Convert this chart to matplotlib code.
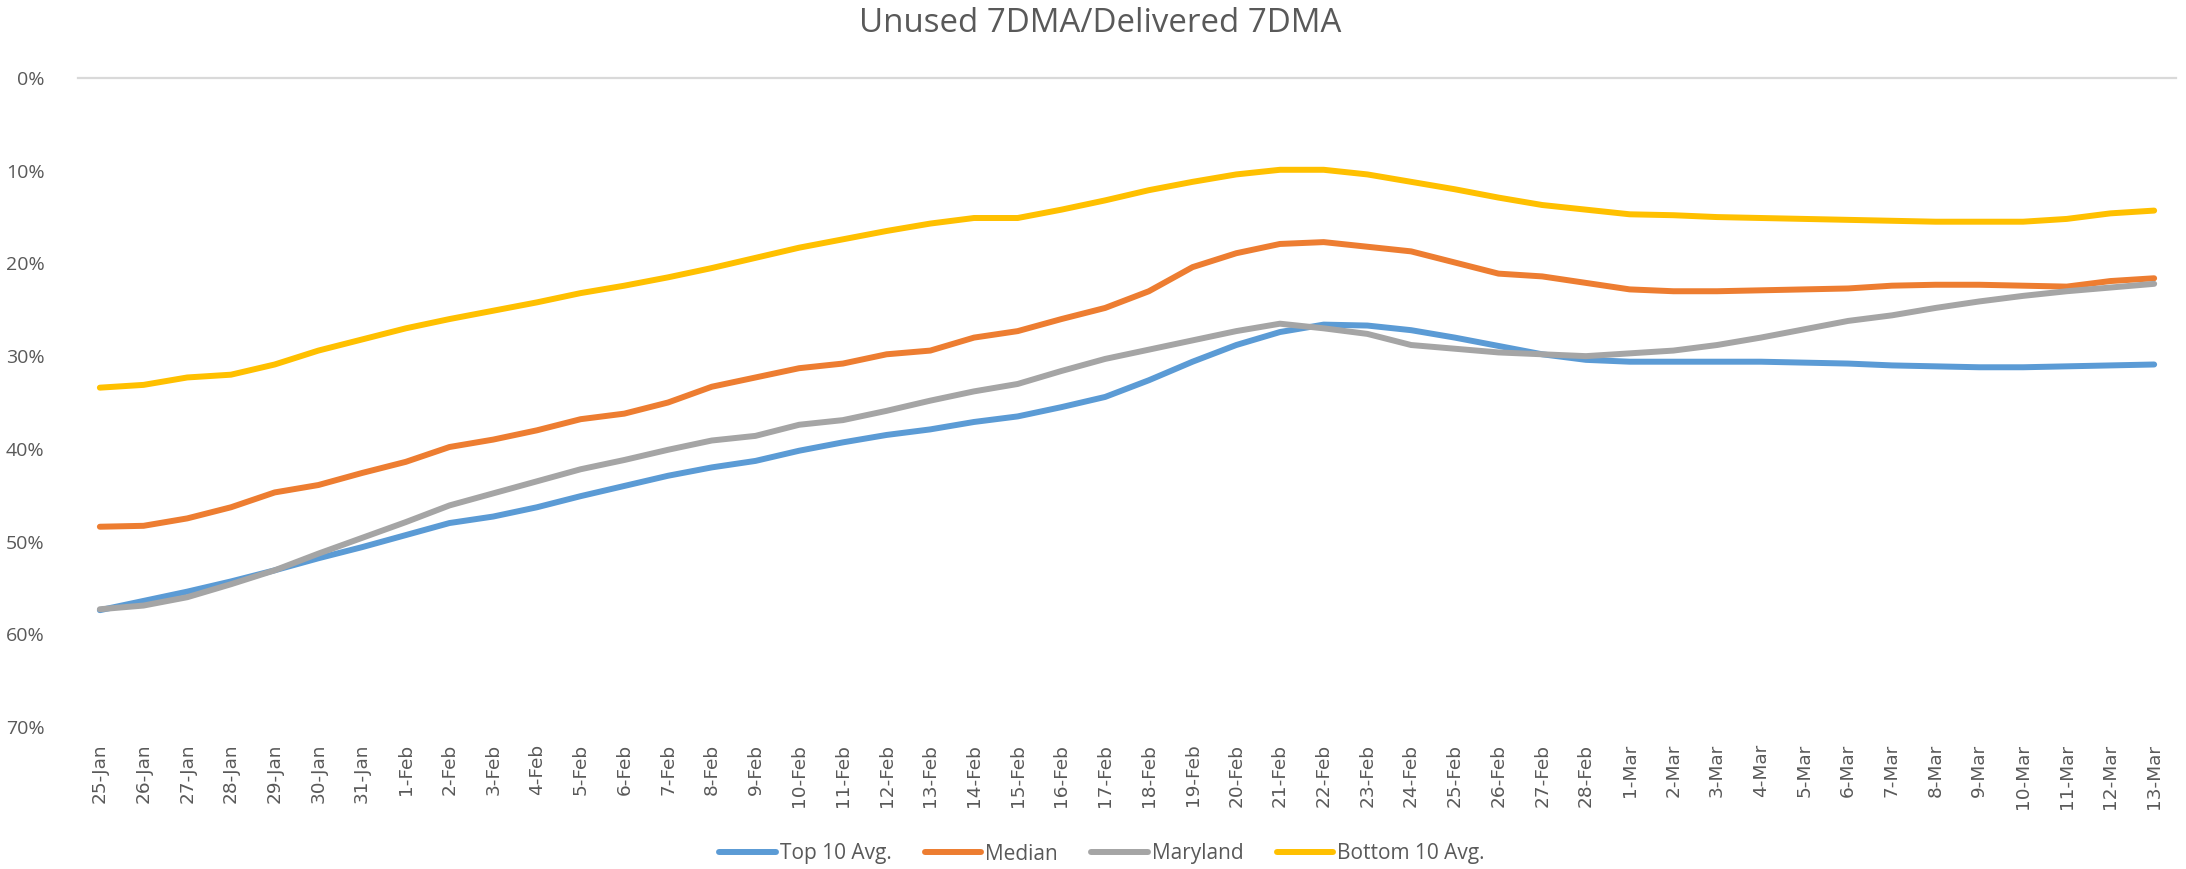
import matplotlib

matplotlib.use("Agg")
import matplotlib.pyplot as plt
import pandas as pd
from matplotlib.ticker import PercentFormatter

# ---- data (share of delivered doses unused, 7-day moving averages, %) ----
dates = pd.date_range("2021-01-25", "2021-03-13")
date_labels = [f"{d.day}-{d:%b}" for d in dates]

top10_avg = [57.4, 56.4, 55.4, 54.3, 53.1, 51.8, 50.6, 49.3, 48.0, 47.3, 46.3, 45.1,
             44.0, 42.9, 42.0, 41.3, 40.2, 39.3, 38.5, 37.9, 37.1, 36.5, 35.5, 34.4,
             32.6, 30.6, 28.8, 27.4, 26.6, 26.7, 27.2, 28.0, 28.9, 29.8, 30.4, 30.6,
             30.6, 30.6, 30.6, 30.7, 30.8, 31.0, 31.1, 31.2, 31.2, 31.1, 31.0, 30.9]
median = [48.4, 48.3, 47.5, 46.3, 44.7, 43.9, 42.6, 41.4, 39.8, 39.0, 38.0, 36.8,
          36.2, 35.0, 33.3, 32.3, 31.3, 30.8, 29.8, 29.4, 28.0, 27.3, 26.0, 24.8,
          23.0, 20.4, 18.9, 17.9, 17.7, 18.2, 18.7, 19.9, 21.1, 21.4, 22.1, 22.8,
          23.0, 23.0, 22.9, 22.8, 22.7, 22.4, 22.3, 22.3, 22.4, 22.5, 21.9, 21.6]
maryland = [57.3, 56.9, 56.0, 54.6, 53.1, 51.3, 49.6, 47.9, 46.1, 44.8, 43.5, 42.2,
            41.2, 40.1, 39.1, 38.6, 37.4, 36.9, 35.9, 34.8, 33.8, 33.0, 31.6, 30.3,
            29.3, 28.3, 27.3, 26.5, 27.0, 27.6, 28.8, 29.2, 29.6, 29.8, 30.0, 29.7,
            29.4, 28.8, 28.0, 27.1, 26.2, 25.6, 24.8, 24.1, 23.5, 23.0, 22.6, 22.2]
bottom10_avg = [33.4, 33.1, 32.3, 32.0, 30.9, 29.4, 28.2, 27.0, 26.0, 25.1, 24.2, 23.2,
                22.4, 21.5, 20.5, 19.4, 18.3, 17.4, 16.5, 15.7, 15.1, 15.1, 14.2, 13.2,
                12.1, 11.2, 10.4, 9.9, 9.9, 10.4, 11.2, 12.0, 12.9, 13.7, 14.2, 14.7,
                14.8, 15.0, 15.1, 15.2, 15.3, 15.4, 15.5, 15.5, 15.5, 15.2, 14.6, 14.3]

series = [("Top 10 Avg.", top10_avg, "#5B9BD5"),
          ("Median", median, "#ED7D31"),
          ("Maryland", maryland, "#A5A5A5"),
          ("Bottom 10 Avg.", bottom10_avg, "#FFC000")]

TXT = "#595959"
FONT = "Open Sans"
W, H = 2186, 869

fig = plt.figure(figsize=(W / 100, H / 100), dpi=100)
ax = fig.add_axes([78 / W, 1 - 727 / H, (2176 - 78) / W, (727 - 78) / H])

x = range(len(date_labels))
for name, vals, col in series:
    ax.plot(x, vals, color=col, lw=4.3, label=name, solid_capstyle="round")

ax.set_xlim(-0.5, len(date_labels) - 0.5)
ax.set_ylim(70, 0)
ax.set_yticks(range(0, 71, 10))
ax.yaxis.set_major_formatter(PercentFormatter(decimals=0))
ax.set_xticks(list(x))
ax.set_xticklabels(date_labels, rotation=90, fontsize=13.3, color=TXT,
                   fontfamily="DejaVu Sans")
ax.tick_params(axis="x", length=0, pad=12)
ax.tick_params(axis="y", length=0, pad=24, labelsize=14, labelcolor=TXT)
for lab in ax.get_yticklabels():
    lab.set_fontfamily(FONT)

for s in ["left", "right", "bottom"]:
    ax.spines[s].set_visible(False)
ax.spines["top"].set_color("#D9D9D9")
ax.spines["top"].set_linewidth(1.6)

fig.text(1100 / W, 1 - 24 / H, "Unused 7DMA/Delivered 7DMA", ha="center", va="center",
         fontsize=23.8, color=TXT, fontfamily=FONT)

fig.legend(loc="center", bbox_to_anchor=(1102 / W, 1 - 854 / H), ncol=4, frameon=False,
           prop={"family": FONT, "size": 15}, labelcolor=TXT,
           handlelength=2.7, handletextpad=0.2, columnspacing=1.6)

fig.savefig("out.png", dpi=100, facecolor="white")
